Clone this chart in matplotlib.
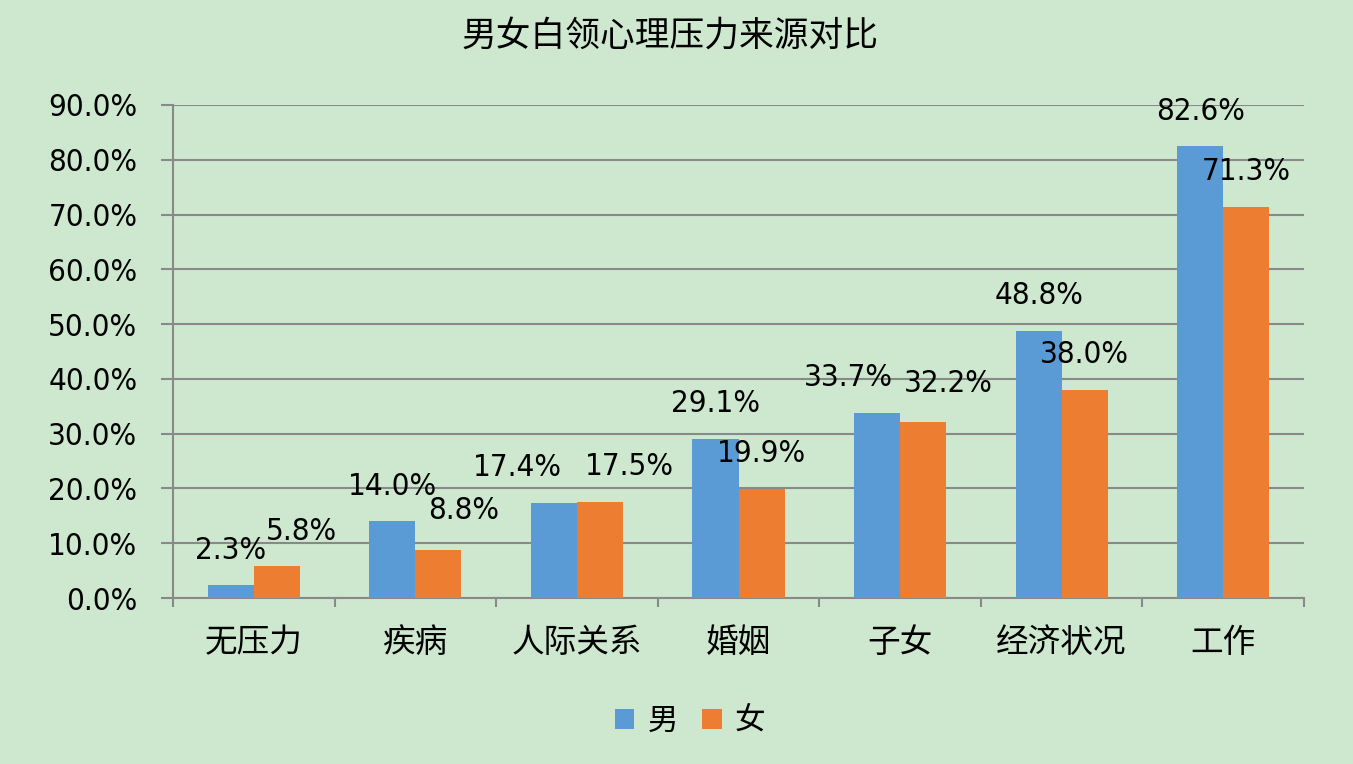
import matplotlib.pyplot as plt
import numpy as np
from matplotlib.patches import Patch
from matplotlib import font_manager

plt.rcParams['font.family'] = ['Noto Sans CJK SC', 'DejaVu Sans']

categories = ['无压力', '疾病', '人际关系', '婚姻', '子女', '经济状况', '工作']
male = [2.3, 14.0, 17.4, 29.1, 33.7, 48.8, 82.6]
female = [5.8, 8.8, 17.5, 19.9, 32.2, 38.0, 71.3]
series_names = ['男', '女']

# label nudges in pixels (the reference moves a few labels sideways)
male_dx = [0, 0, -36, 0, -29, 0, 0]
female_dx = [25, 25, 29, 0, 25, 0, 0]
male_dy = [26, 26, 27, 27, 27, 27, 26]
female_dy = [26, 31, 27, 27, 30, 27, 27]

BG = '#cde8cf'
BLUE = '#5b9bd5'
ORANGE = '#ed7d31'
GRID = '#898989'

print([f.name + ' ' + str(f.stretch) for f in font_manager.fontManager.ttflist if 'DejaVu' in f.name])

num_font = dict(family='DejaVu Sans', stretch='condensed', size=22.5)

fig = plt.figure(figsize=(13.53, 7.64), dpi=100, facecolor=BG)
ax = fig.add_axes([173 / 1353, 1 - 598 / 764, (1304 - 173) / 1353, (598 - 105) / 764])
ax.set_facecolor(BG)

x = np.arange(len(categories))
w = 0.285
b1 = ax.bar(x - w / 2, male, w, color=BLUE, zorder=3)
b2 = ax.bar(x + w / 2, female, w, color=ORANGE, zorder=3)

for bars, vals, dxs, dys in ((b1, male, male_dx, male_dy), (b2, female, female_dx, female_dy)):
    for r, v, dx, dy in zip(bars, vals, dxs, dys):
        ax.annotate(f'{v:.1f}%', (r.get_x() + r.get_width() / 2, v),
                    xytext=(dx * 0.72, dy * 0.72), textcoords='offset points',
                    ha='center', va='baseline', zorder=5, **num_font)

ax.set_xlim(-0.5, len(categories) - 0.5)
ax.set_ylim(0, 90)
ax.set_yticks(np.arange(0, 91, 10))
ax.set_yticklabels([f'{t:.1f}%' for t in np.arange(0, 91, 10)], **num_font)
ax.yaxis.grid(True, color=GRID, linewidth=1.5, zorder=0)

ax.set_xticks(x)
ax.set_xticklabels(categories, fontsize=23.5)
ax.set_xticks(np.arange(-0.5, len(categories)), minor=True)
ax.tick_params(axis='x', which='major', length=0, pad=21)
ax.tick_params(axis='x', which='minor', length=6.5, width=1.5, color=GRID)
ax.tick_params(axis='y', length=8.6, width=1.5, color=GRID, pad=17)

for s in ['top', 'right']:
    ax.spines[s].set_visible(False)
for s in ['left', 'bottom']:
    ax.spines[s].set_color(GRID)
    ax.spines[s].set_linewidth(1.5)

fig.text(670 / 1353, 1 - 36 / 764, '男女白领心理压力来源对比', ha='center', va='center',
         fontsize=25)

handles = [Patch(facecolor=BLUE), Patch(facecolor=ORANGE)]
fig.legend(handles, series_names, loc='center', bbox_to_anchor=(690 / 1353, 1 - 721 / 764),
           ncol=2, frameon=False, fontsize=22, handlelength=0.65, handleheight=0.65,
           handletextpad=0.42, columnspacing=0.8)

fig.savefig('out.png', dpi=100, facecolor=BG)
